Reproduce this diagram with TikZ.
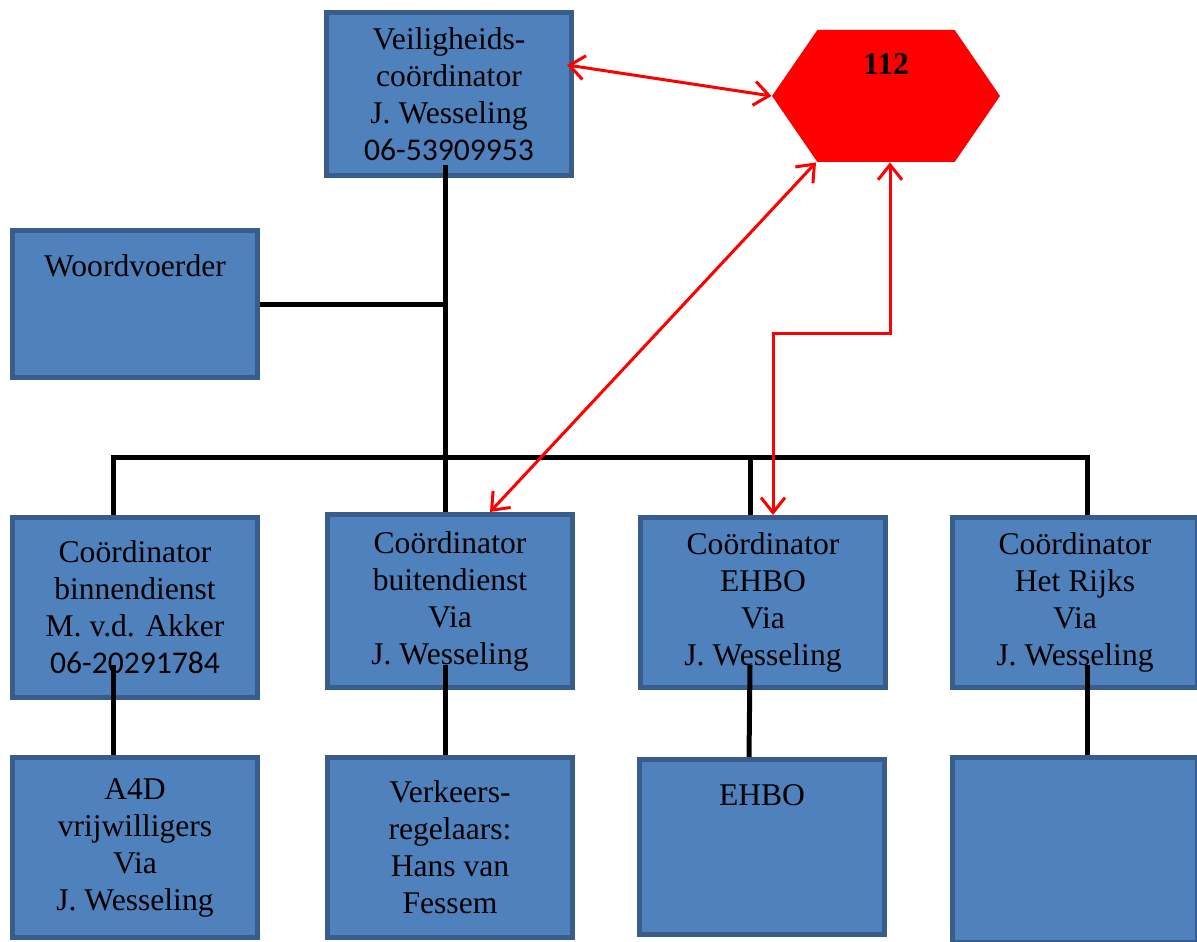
\documentclass[tikz,border=0pt]{standalone}
\usepackage{xcolor}
\usepackage{fontspec}
\setmainfont{Liberation Serif}
\newfontfamily\cijfers{Carlito}
\usepackage{tikz}
\usetikzlibrary{shapes.symbols,arrows.meta}
\definecolor{vlak}{HTML}{4F81BD}
\definecolor{rand}{HTML}{385D8A}

\begin{document}
\begin{tikzpicture}[
x=0.5pt,y=-0.5pt,
blok/.style={
  draw=rand,
  fill=vlak,
  line width=2.5pt,
  minimum width=122.5pt,
  inner sep=0pt,
  align=center,
  font=\fontsize{15.8}{18.5}\selectfont
},
kop/.style={
  anchor=north,
  yshift=-10pt,
  font=\fontsize{15.8}{18.5}\selectfont
},
lijn/.style={
  line width=2.5pt
},
rood/.style={
  draw=red,
  line width=1.5pt,
  >={Straight Barb[length=7.5pt,width=12pt]},
  <->
}
]
\useasboundingbox (0,0) rectangle (1197,941);

\node[blok,minimum height=81.5pt] (veilig) at (449,94)
  {Veiligheids-\\coördinator\\J. Wesseling\\{\cijfers 06-53909953}};
\node[signal,signal to=west and east,signal pointer angle=111,fill=red,
  minimum width=114pt,minimum height=66pt,inner sep=0pt,
  label={[kop,yshift=1.5pt,font=\fontsize{15.8}{18.5}\selectfont\bfseries]north:112}] (nood) at (886,96) {};
\node[blok,minimum height=73.5pt,label={[kop]north:Woordvoerder}] (woord) at (135,304) {};

\node[blok,minimum height=90pt] (binnen) at (135,607.5)
  {Coördinator\\binnendienst\\M. v.d. Akker\\{\cijfers 06-20291784}};
\node[blok,minimum height=86.5pt] (buiten) at (450,601)
  {Coördinator\\buitendienst\\Via\\J. Wesseling};
\node[blok,minimum height=85pt] (ehbo) at (763,602.5)
  {Coördinator\\EHBO\\Via\\J. Wesseling};
\node[blok,minimum height=85pt] (rijks) at (1075,602.5)
  {Coördinator\\Het Rijks\\Via\\J. Wesseling};

\node[blok,minimum height=90pt] (vrijw) at (135,847.5)
  {A4D\\vrijwilligers\\Via\\J. Wesseling};
\node[blok,minimum height=90pt] (verkeer) at (450,847.5)
  {Verkeers-\\regelaars:\\Hans van\\Fessem};
\node[blok,minimum height=87.5pt,label={[kop]north:EHBO}] (ehbob) at (762,847) {};
\node[blok,minimum height=92.5pt] (leeg) at (1075,850) {};

\coordinate (bus) at (0,457);
\coordinate (knik) at (773,333);

\draw[lijn] ([xshift=-2pt,yshift=6.5pt]veilig.south) -- ([xshift=-2pt]veilig.south |- buiten.north);
\draw[lijn] (woord.east) -- ([xshift=-2pt]woord.east -| veilig.south);
\draw[lijn] ([xshift=-11pt]binnen.north) |- ([xshift=6pt]rijks.north |- bus)
  -- ([xshift=6pt]rijks.north);
\draw[lijn] ([xshift=-6.5pt]ehbo.north |- bus) -- ([xshift=-6.5pt]ehbo.north);
\foreach \boven/\onder/\dx/\dy in {binnen/vrijw/-11pt/17.5pt,buiten/verkeer/-2.5pt/12.5pt,
  ehbo/ehbob/-6.5pt/12.5pt,rijks/leeg/6pt/12.5pt}
  \draw[lijn] ([xshift=\dx,yshift=\dy]\boven.south) -- ([xshift=\dx]\onder.north);

\draw[rood] ([xshift=-3.5pt,yshift=14.5pt]veilig.east) -- (nood.west);
\draw[rood] ([xshift=20pt]buiten.north) -- ([xshift=-35pt]nood.south);
\draw[rood] ([xshift=2pt]nood.south) |- (knik) -- (knik |- ehbo.north);

\end{tikzpicture}
\end{document}
